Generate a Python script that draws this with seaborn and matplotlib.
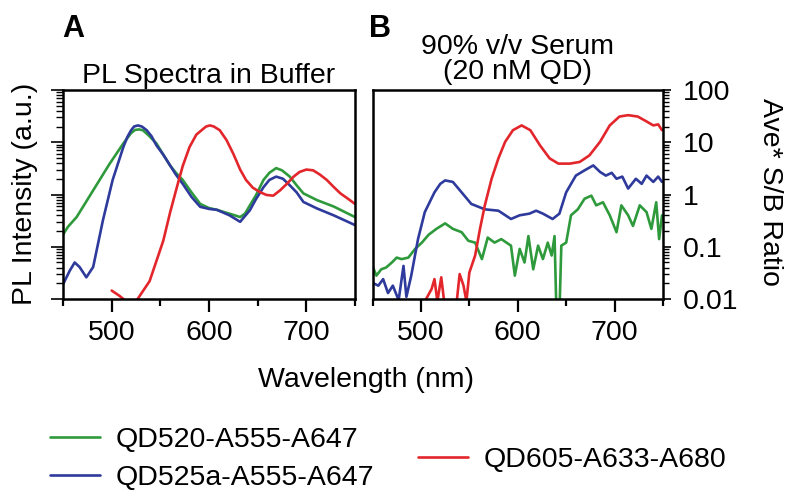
import numpy as np
import pandas as pd
import matplotlib
matplotlib.use("Agg")
import matplotlib.pyplot as plt
from matplotlib.lines import Line2D
from matplotlib.ticker import LogLocator, NullFormatter, FixedLocator
import seaborn as sns

# ==============================
# Data
# ==============================

# Panel A : PL spectra in buffer (arbitrary units, log scale 1e-4 .. 1)
a_green_nm = [450, 455, 464, 481, 498, 512, 520, 524, 528, 532, 538, 546, 553, 560, 566, 573,
              582, 591, 600, 608, 614, 621, 632, 637, 642, 648, 656, 662, 669, 675, 683, 690,
              697, 711, 728, 750]
a_green_val = [0.0017, 0.0024, 0.0037, 0.012, 0.039, 0.095, 0.15, 0.172, 0.176, 0.17, 0.135,
               0.095, 0.058, 0.036, 0.026, 0.019, 0.011, 0.0066, 0.0055, 0.0051, 0.0047,
               0.0043, 0.0037, 0.0043, 0.0062, 0.0095, 0.019, 0.026, 0.032, 0.029, 0.022,
               0.015, 0.0105, 0.0078, 0.0059, 0.0037]

a_blue_nm = [450, 457, 462, 467, 474, 481, 491, 501, 512, 516, 520, 523, 527, 531, 536, 541,
             546, 553, 560, 566, 573, 582, 591, 600, 608, 621, 632, 642, 648, 656, 662, 669,
             676, 683, 690, 697, 711, 728, 750]
a_blue_val = [0.00019, 0.00035, 0.0005, 0.00041, 0.00026, 0.00041, 0.0032, 0.019, 0.081, 0.125,
              0.17, 0.2, 0.21, 0.2, 0.17, 0.13, 0.087, 0.058, 0.036, 0.024, 0.016, 0.009,
              0.0058, 0.0053, 0.0051, 0.004, 0.003, 0.005, 0.008, 0.0138, 0.019, 0.022, 0.02,
              0.015, 0.011, 0.0072, 0.0054, 0.004, 0.0026]

a_red_nm = [500, 508, 515, 525, 539, 553, 560, 567, 573, 580, 587, 594, 597, 601, 605, 611, 618,
            625, 632, 638, 645, 652, 659, 666, 673, 680, 687, 693, 700, 707, 714, 721, 728, 735,
            742, 750]
a_red_val = [0.000145, 0.000115, 0.00009, 0.00009, 0.00022, 0.0013, 0.0045, 0.0138, 0.035,
             0.081, 0.14, 0.18, 0.2, 0.21, 0.2, 0.17, 0.11, 0.06, 0.03, 0.019, 0.0135, 0.0112,
             0.0098, 0.0095, 0.012, 0.016, 0.022, 0.027, 0.03, 0.029, 0.024, 0.019, 0.014,
             0.0105, 0.0085, 0.0066]

# Panel B : 90% v/v serum, Ave* S/B ratio (log scale 0.01 .. 100)
b_green_nm = [450, 454, 459, 464, 470, 475, 480, 487, 494, 501, 508, 516, 525, 533, 542, 549,
              556, 563, 569, 576, 583, 593, 597, 602, 607, 611, 616, 621, 626, 631, 635, 638,
              640, 643, 645, 650, 655, 662, 669, 676, 681, 688, 695, 702, 707, 714, 719, 726,
              733, 738, 743, 746, 749]
b_green_val = [0.043, 0.028, 0.037, 0.04, 0.05, 0.062, 0.058, 0.062, 0.091, 0.12, 0.17, 0.22,
               0.28, 0.22, 0.19, 0.13, 0.12, 0.058, 0.15, 0.12, 0.14, 0.105, 0.028, 0.091, 0.05,
               0.16, 0.037, 0.105, 0.058, 0.12, 0.068, 0.16, 0.005, 0.005, 0.105, 0.12, 0.40,
               0.52, 0.83, 0.95, 0.62, 0.71, 0.40, 0.19, 0.62, 0.40, 0.25, 0.62, 0.46, 0.22,
               0.71, 0.14, 0.40]

b_blue_nm = [450, 456, 461, 466, 471, 477, 482, 485, 490, 497, 504, 514, 520, 525, 533, 542,
             552, 566, 580, 593, 602, 612, 619, 626, 636, 643, 650, 660, 669, 678, 685, 691,
             697, 702, 708, 714, 722, 728, 733, 740, 745, 749]
b_blue_val = [0.0204, 0.018, 0.024, 0.013, 0.018, 0.0095, 0.043, 0.011, 0.028, 0.14, 0.46, 1.1,
              1.6, 1.86, 1.74, 1.1, 0.66, 0.52, 0.49, 0.34, 0.40, 0.43, 0.49, 0.43, 0.34, 0.43,
              1.1, 2.3, 2.9, 3.6, 2.7, 2.3, 2.6, 2.0, 2.2, 1.3, 2.0, 1.6, 2.3, 1.74, 2.2, 1.74]

b_red_nm = [504, 511, 514, 517, 521, 524, 537, 540, 544, 547, 550, 556, 561, 566, 573, 580, 587,
            595, 604, 613, 623, 633, 642, 654, 664, 674, 685, 695, 705, 714, 724, 733, 740, 745,
            749]
b_red_val = [0.009, 0.0155, 0.024, 0.009, 0.026, 0.009, 0.009, 0.03, 0.018, 0.009, 0.032, 0.068,
             0.22, 0.62, 2.0, 4.9, 10.2, 17, 21, 17, 8.7, 4.9, 3.9, 3.9, 4.2, 5.6, 10.2, 21, 31,
             33, 31, 25, 21, 22, 17]

series_names = ["QD520-A555-A647", "QD525a-A555-A647", "QD605-A633-A680"]
series_colors = ["#2f9a3c", "#2e3a9c", "#e3262b"]

xticks_major = [500, 600, 700]
xticks_minor = [450, 550, 650, 750]
b_yticks = [0.01, 0.1, 1, 10, 100]
b_yticklabels = ["0.01", "0.1", "1", "10", "100"]


def make_df(parts):
    frames = []
    for name, nm, val in parts:
        frames.append(pd.DataFrame({"nm": nm, "val": val, "probe": name}))
    return pd.concat(frames, ignore_index=True)


df_a = make_df([(series_names[0], a_green_nm, a_green_val),
                (series_names[1], a_blue_nm, a_blue_val),
                (series_names[2], a_red_nm, a_red_val)])
df_b = make_df([(series_names[0], b_green_nm, b_green_val),
                (series_names[1], b_blue_nm, b_blue_val),
                (series_names[2], b_red_nm, b_red_val)])

# ==============================
# Style
# ==============================
sns.set_style("ticks")
plt.rcParams["font.family"] = ["Liberation Sans", "DejaVu Sans"]
plt.rcParams["font.size"] = 20.5
plt.rcParams["axes.linewidth"] = 1.8
for key in ["text.color", "axes.labelcolor", "xtick.color", "ytick.color", "axes.edgecolor"]:
    plt.rcParams[key] = "black"

palette = dict(zip(series_names, series_colors))
FS = 20.5

fig = plt.figure(figsize=(7.87, 4.94), dpi=100)
axA = fig.add_axes([63 / 787, 1 - 299 / 494, 292 / 787, 209 / 494])
axB = fig.add_axes([372.5 / 787, 1 - 299 / 494, 290.5 / 787, 209 / 494])

for ax, df in [(axA, df_a), (axB, df_b)]:
    sns.lineplot(data=df, x="nm", y="val", hue="probe", palette=palette, estimator=None,
                 sort=False, linewidth=1.9, legend=False, ax=ax)
    ax.set_yscale("log")
    ax.set_xlim(450, 750)
    ax.xaxis.set_major_locator(FixedLocator(xticks_major))
    ax.xaxis.set_minor_locator(FixedLocator(xticks_minor))
    ax.tick_params(axis="x", which="major", length=9, width=1.6, direction="out", pad=6,
                   labelsize=FS)
    ax.tick_params(axis="x", which="minor", length=5, width=1.6, direction="out")
    ax.set_xlabel("")
    ax.set_ylabel("")
    for s in ax.spines.values():
        s.set_visible(True)
        s.set_linewidth(1.8)
        s.set_color("black")

# panel A : left log axis without labels
axA.set_ylim(1e-4, 1)
axA.yaxis.set_major_locator(LogLocator(base=10, numticks=10))
axA.yaxis.set_minor_locator(LogLocator(base=10, subs=np.arange(2, 10), numticks=10))
axA.yaxis.set_major_formatter(NullFormatter())
axA.yaxis.set_minor_formatter(NullFormatter())
axA.tick_params(axis="y", which="major", length=9, width=1.2, direction="out")
axA.tick_params(axis="y", which="minor", length=5, width=1.0, direction="out")
axA.set_title("PL Spectra in Buffer", fontsize=FS, pad=5)

# panel B : right log axis with labels
axB.set_ylim(0.01, 100)
axB.yaxis.tick_right()
axB.yaxis.set_major_locator(FixedLocator(b_yticks))
axB.set_yticklabels(b_yticklabels)
axB.yaxis.set_minor_locator(LogLocator(base=10, subs=np.arange(2, 10), numticks=10))
axB.yaxis.set_minor_formatter(NullFormatter())
axB.tick_params(axis="y", which="major", length=6, width=1.2, direction="out", pad=8,
                labelsize=FS)
axB.tick_params(axis="y", which="minor", length=4, width=1.0, direction="out")
axB.set_title("90% v/v Serum\n(20 nM QD)", fontsize=FS, pad=8, linespacing=0.95)

# labels
fig.text(62 / 787, 1 - 37 / 494, "A", fontsize=22, fontweight="bold", va="baseline")
fig.text(369 / 787, 1 - 37 / 494, "B", fontsize=22, fontweight="bold", va="baseline")
fig.text(25 / 787, 1 - 194 / 494, "PL Intensity (a.u.)", rotation=90, ha="center",
         va="center", fontsize=FS)
fig.text(770 / 787, 1 - 192 / 494, "Ave* S/B Ratio", rotation=270, ha="center",
         va="center", fontsize=FS)
fig.text(366 / 787, 1 - 380 / 494, "Wavelength (nm)", ha="center", va="center", fontsize=FS)

# legends (kept just inside the bottom edge)
h = [Line2D([], [], color=c, linewidth=1.9) for c in series_colors]
leg1 = fig.legend(h[:2], series_names[:2], loc="center left",
                  bbox_to_anchor=(50 / 787, 1 - 459 / 494), frameon=False, fontsize=FS,
                  borderpad=0, borderaxespad=0, handlelength=1.75, handletextpad=0.55,
                  labelspacing=0.4)
leg2 = fig.legend(h[2:], series_names[2:], loc="center left",
                  bbox_to_anchor=(418 / 787, 1 - 460 / 494), frameon=False, fontsize=FS,
                  borderpad=0, borderaxespad=0, handlelength=1.75, handletextpad=0.55)

fig.savefig("out.png", dpi=100)
